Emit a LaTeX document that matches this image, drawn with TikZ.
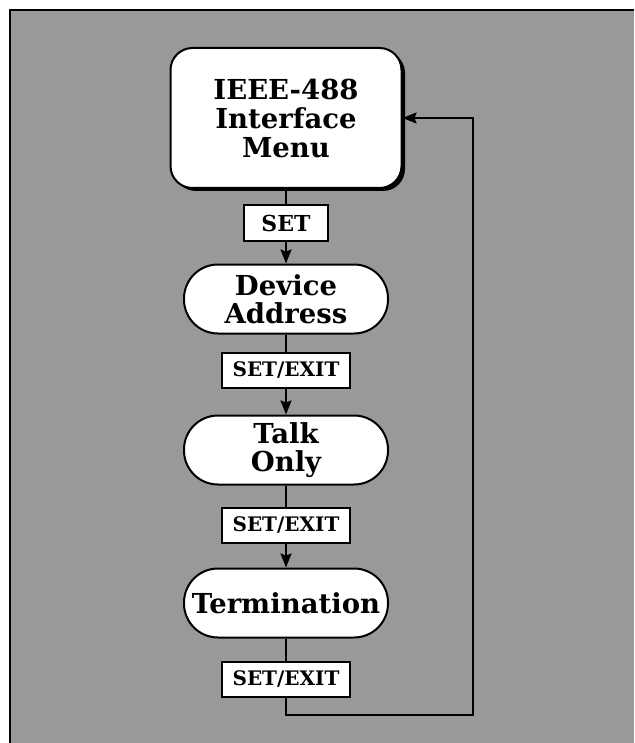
\documentclass[tikz,border=0pt]{standalone}
\usepackage{fontspec}
\setmainfont{DejaVu Serif}
\usepackage{tikz}
\usetikzlibrary{arrows.meta}
\definecolor{screenGray}{gray}{0.6}

\begin{document}
\begin{tikzpicture}[x=1pt, y=-1pt,
    line width=2pt,
    menubox/.style={draw, fill=white, rounded corners=22pt, line width=2pt,
      minimum width=231pt, minimum height=140pt, align=center,
      font=\fontsize{27.5}{29}\selectfont\bfseries},
    itembox/.style={draw, fill=white, rounded corners=34pt, line width=2pt,
      minimum width=204pt, minimum height=69pt, align=center,
      font=\fontsize{27.5}{27.5}\selectfont\bfseries},
    keybox/.style={draw, fill=white, line width=2pt, minimum height=35pt,
      inner xsep=4pt, font=\fontsize{20}{20}\selectfont\bfseries},
    flow/.style={-{Stealth[length=14pt,width=11pt,inset=2pt]}}]
  \useasboundingbox (0,0) rectangle (634,743);

  % Screened background
  \fill[screenGray] (10,10) rectangle (634,743);
  \draw[line width=2pt] (10,743) -- (10,10) -- (634,10);

  % Menu head
  \fill[black, rounded corners=22pt] (174,51) rectangle (405,191);
  \node[menubox] (menu) at (286,118) {IEEE-488\\Interface\\Menu};

  % Menu items
  \node[keybox, minimum width=84pt, font=\fontsize{22}{22}\selectfont\bfseries] (setA) at (286,223) {SET};
  \node[itembox] (addr) at (286,299) {Device\\Address};
  \node[keybox, minimum width=128pt] (setB) at (286,370) {SET/EXIT};
  \node[itembox] (talk) at (286,450) {Talk\\Only};
  \node[keybox, minimum width=128pt] (setC) at (286,525) {SET/EXIT};
  \node[itembox] (term) at (286,603) {Termination};
  \node[keybox, minimum width=128pt] (setD) at (286,679) {SET/EXIT};

  % Flow
  \draw (menu.south) -- (setA.north);
  \draw[flow] (setA.south) -- (addr.north);
  \draw (addr.south) -- (setB.north);
  \draw[flow] (setB.south) -- (talk.north);
  \draw (talk.south) -- (setC.north);
  \draw[flow] (setC.south) -- (term.north);
  \draw (term.south) -- (setD.north);

  % Return loop
  \coordinate (loopc) at (473,715);
  \draw[flow] (setD.south) |- (loopc) |- (menu.east);
\end{tikzpicture}
\end{document}
